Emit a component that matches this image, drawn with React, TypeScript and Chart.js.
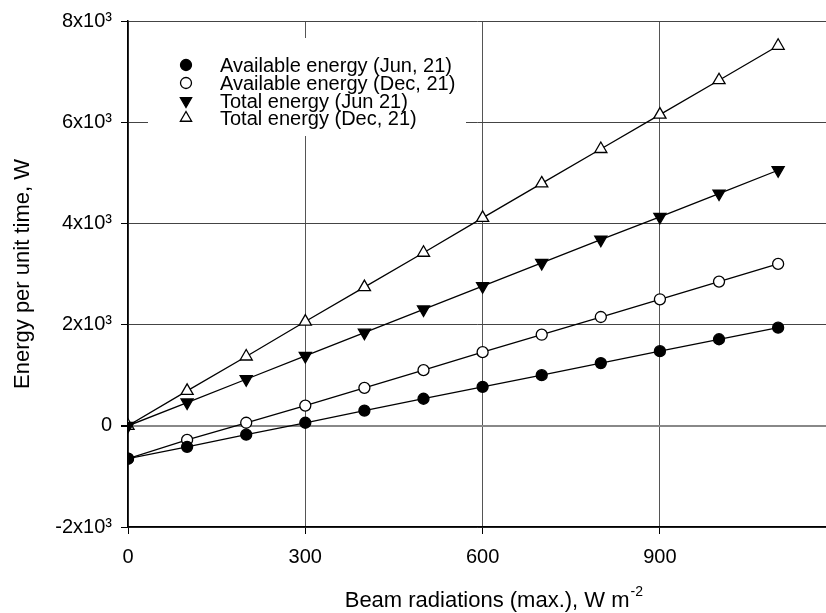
import React, { useEffect, useRef } from 'react';
import { Chart, registerables } from 'chart.js';

Chart.register(...registerables);

const beamRadiation = [0, 100, 200, 300, 400, 500, 600, 700, 800, 900, 1000, 1100];
const availableJun = [-650, -415, -175, 60, 300, 535, 770, 1000, 1240, 1475, 1710, 1940];
const availableDec = [-650, -280, 60, 400, 750, 1100, 1455, 1800, 2150, 2500, 2850, 3200];
const totalJun = [0, 460, 920, 1380, 1840, 2300, 2760, 3220, 3680, 4130, 4590, 5050];
const totalDec = [0, 690, 1370, 2060, 2740, 3420, 4110, 4790, 5470, 6150, 6830, 7510];
const seriesLabels = [
  'Available energy (Jun, 21)',
  'Available energy (Dec, 21)',
  'Total energy (Jun 21)',
  'Total energy (Dec, 21)',
];
const xTickValues = [0, 300, 600, 900];
const yTickValues = [-2000, 0, 2000, 4000, 6000, 8000];
const xAxisTitle = 'Beam radiations (max.), W m';
const xAxisTitleSup = '-2';
const yAxisTitle = 'Energy per unit time, W';
const yMin = -2000;
const yMax = 8000;
const xMin = 0;
const xMax = 1181;

const FONT = "'Liberation Sans', Arial, Helvetica, sans-serif";

type Marker = { style: 'circle' | 'triangle'; filled: boolean; rotation: number; radius: number };
const markers: Marker[] = [
  { style: 'circle', filled: true, rotation: 0, radius: 5.5 },
  { style: 'circle', filled: false, rotation: 0, radius: 5.5 },
  { style: 'triangle', filled: true, rotation: 180, radius: 7 },
  { style: 'triangle', filled: false, rotation: 0, radius: 7 },
];

function drawMarker(ctx: CanvasRenderingContext2D, m: Marker, x: number, y: number, r: number) {
  ctx.save();
  ctx.beginPath();
  if (m.style === 'circle') {
    ctx.arc(x, y, r, 0, Math.PI * 2);
  } else {
    let rad = (m.rotation * Math.PI) / 180;
    ctx.moveTo(x + Math.sin(rad) * r, y - Math.cos(rad) * r);
    rad += (2 * Math.PI) / 3;
    ctx.lineTo(x + Math.sin(rad) * r, y - Math.cos(rad) * r);
    rad += (2 * Math.PI) / 3;
    ctx.lineTo(x + Math.sin(rad) * r, y - Math.cos(rad) * r);
    ctx.closePath();
  }
  ctx.fillStyle = m.filled ? '#000' : '#fff';
  ctx.fill();
  ctx.lineWidth = 1.3;
  ctx.strokeStyle = '#000';
  ctx.stroke();
  ctx.restore();
}

const legendPlugin = {
  id: 'insideLegend',
  afterDraw(chart: any) {
    const ctx: CanvasRenderingContext2D = chart.ctx;
    ctx.save();
    ctx.fillStyle = '#fff';
    ctx.fillRect(148, 38, 318, 98);
    const rows = [65, 83, 101, 118];
    ctx.font = `20px ${FONT}`;
    ctx.textBaseline = 'middle';
    ctx.textAlign = 'left';
    seriesLabels.forEach((label, i) => {
      const m = markers[i];
      drawMarker(ctx, m, 186, rows[i], m.style === 'circle' ? 5.5 : 6.5);
      ctx.fillStyle = '#000';
      ctx.fillText(label, 220, rows[i] + 1);
    });
    // x axis title with superscript
    ctx.font = `22px ${FONT}`;
    const mainW = ctx.measureText(xAxisTitle).width;
    ctx.font = `14px ${FONT}`;
    const supW = ctx.measureText(xAxisTitleSup).width;
    const total = mainW + supW + 1;
    const endX = 643;
    const startX = endX - total;
    ctx.fillStyle = '#000';
    ctx.textBaseline = 'alphabetic';
    ctx.font = `22px ${FONT}`;
    ctx.fillText(xAxisTitle, startX, 607);
    ctx.font = `14px ${FONT}`;
    ctx.fillText(xAxisTitleSup, startX + mainW + 1, 596);
    ctx.restore();
  },
};

function mk(values: number[]) {
  return beamRadiation.map((x, i) => ({ x, y: values[i] }));
}

export default function App() {
  const ref = useRef<HTMLCanvasElement>(null);
  useEffect(() => {
    if (!ref.current) return;
    const all = [availableJun, availableDec, totalJun, totalDec];
    const chart = new Chart(ref.current, {
      type: 'line',
      data: {
        datasets: all.map((vals, i) => ({
          label: seriesLabels[i],
          data: mk(vals),
          borderColor: '#000',
          borderWidth: 1.3,
          backgroundColor: markers[i].filled ? '#000' : '#fff',
          pointBackgroundColor: markers[i].filled ? '#000' : '#fff',
          pointBorderColor: '#000',
          pointBorderWidth: 1.3,
          pointStyle: markers[i].style,
          pointRotation: markers[i].rotation,
          pointRadius: markers[i].radius,
          tension: 0,
          fill: false,
        })),
      },
      options: {
        responsive: false,
        animation: false,
        events: [],
        layout: { autoPadding: false, padding: { top: 16, right: 0, left: 0, bottom: 0 } },
        plugins: { legend: { display: false }, tooltip: { enabled: false } },
        scales: {
          x: {
            type: 'linear',
            min: xMin,
            max: xMax,
            afterFit: (s: any) => { s.height = 86; s.paddingLeft = 0; s.paddingRight = 0; },
            afterBuildTicks: (s: any) => { s.ticks = xTickValues.map((v) => ({ value: v })); },
            ticks: {
              color: '#000',
              font: { family: FONT, size: 20 },
              padding: 11,
              maxRotation: 0,
              callback: (v: any) => String(v),
            },
            grid: {
              color: '#555',
              lineWidth: 1,
              tickLength: 7,
              tickColor: '#000',
            },
            border: { color: '#000', width: 1.5 },
            title: { display: false },
          },
          y: {
            type: 'linear',
            min: yMin,
            max: yMax,
            afterFit: (s: any) => { s.width = 128; },
            afterBuildTicks: (s: any) => { s.ticks = yTickValues.map((v) => ({ value: v })); },
            ticks: {
              color: '#000',
              font: { family: FONT, size: 20 },
              padding: 9,
              callback: (v: any) => (v === 0 ? '0' : `${v / 1000}x10\u00B3`),
            },
            grid: {
              color: (c: any) => (c.tick && c.tick.value === 0 ? '#888' : '#444'),
              lineWidth: (c: any) => (c.tick && c.tick.value === 0 ? 2 : 1),
              tickLength: 7,
              tickColor: '#000',
            },
            border: { color: '#000', width: 1.5 },
            title: {
              display: true,
              text: yAxisTitle,
              color: '#000',
              font: { family: FONT, size: 22 },
              padding: { top: 10, bottom: 0 },
            },
          },
        },
      },
      plugins: [legendPlugin],
    });
    return () => chart.destroy();
  }, []);
  return (
    <div style={{ position: 'absolute', left: 0, top: 0, width: 826, height: 613, background: '#fff' }}>
      <canvas ref={ref} width={826} height={613} style={{ display: 'block' }} />
    </div>
  );
}
